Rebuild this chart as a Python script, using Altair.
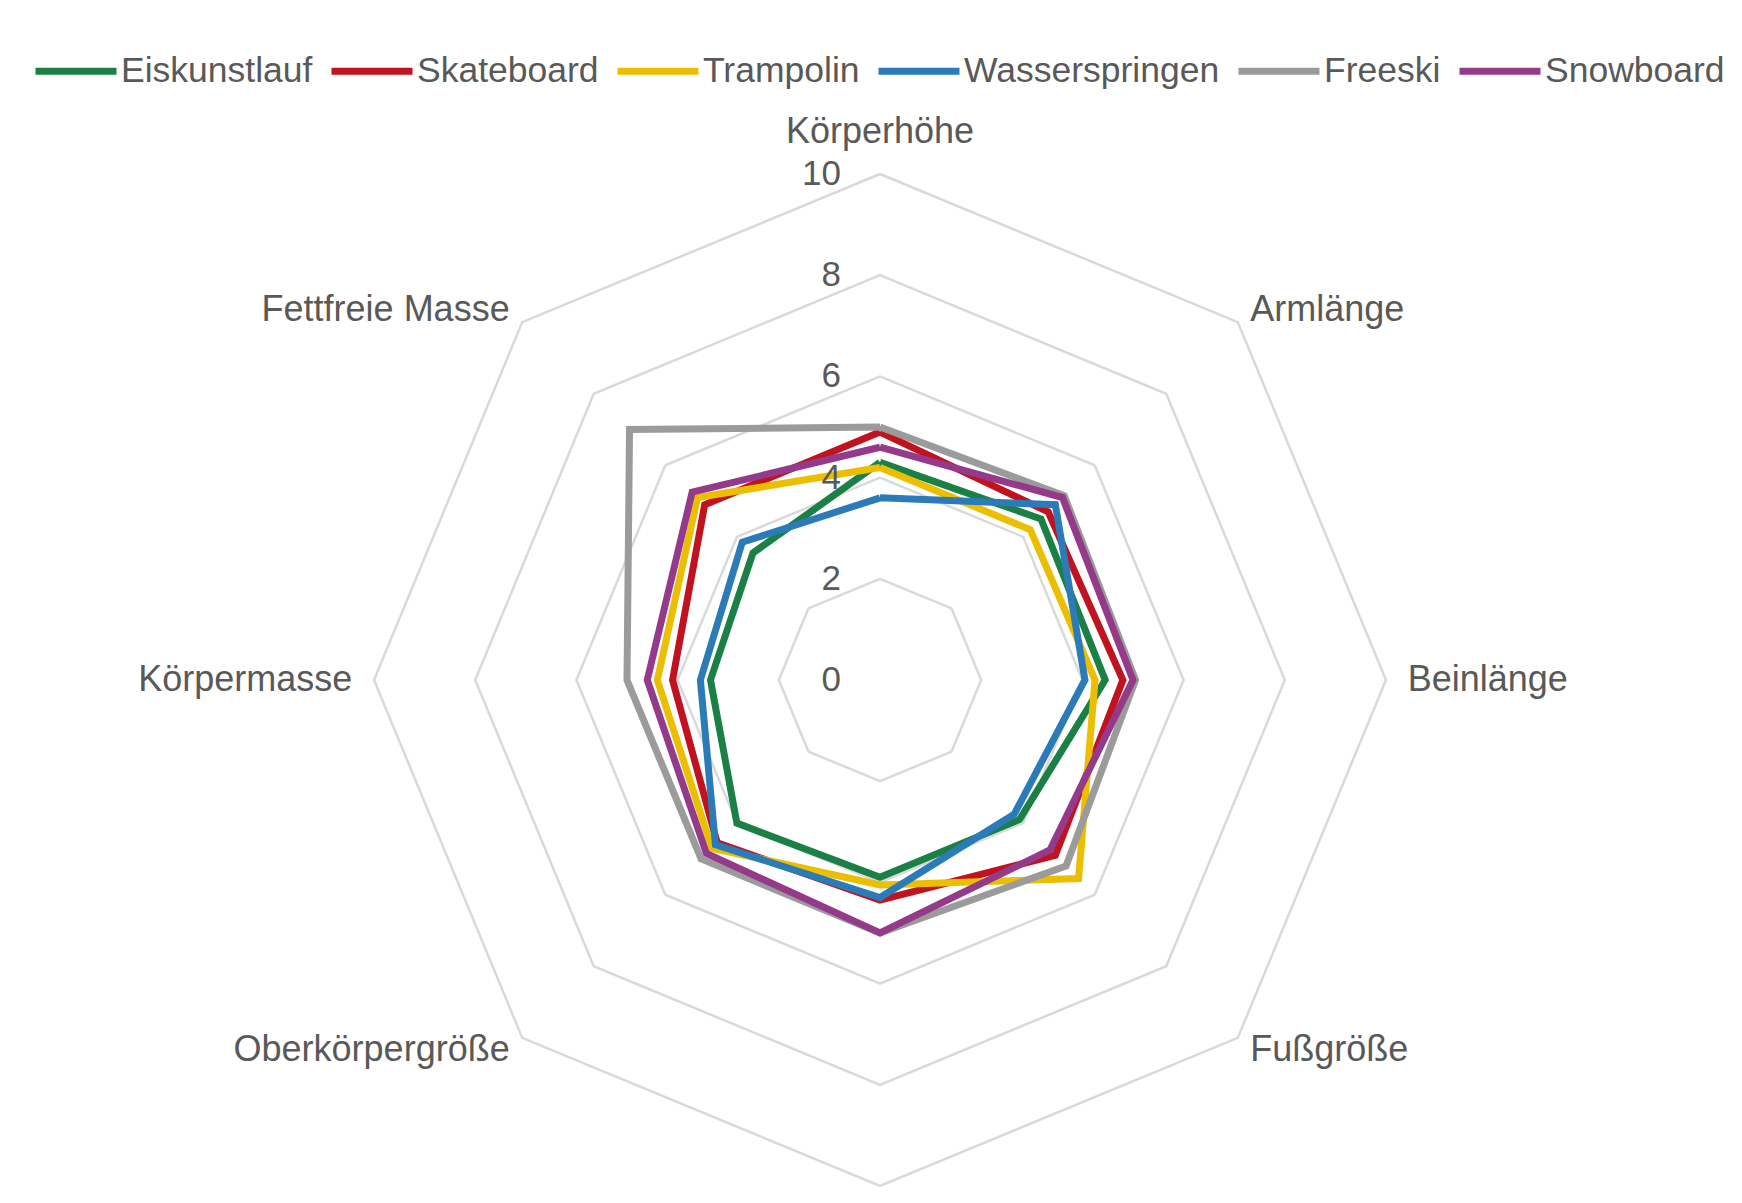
import altair as alt
import pandas as pd

# ---- data ----
categories = ["Körperhöhe", "Armlänge", "Beinlänge", "Fußgröße", "",
              "Oberkörpergröße", "Körpermasse", "Fettfreie Masse"]
series_names = ["Eiskunstlauf", "Skateboard", "Trampolin", "Wasserspringen", "Freeski", "Snowboard"]
eiskunstlauf = [4.3, 4.5, 4.45, 3.9, 3.9, 4.0, 3.35, 3.55]
skateboard = [4.9, 4.7, 4.8, 4.9, 4.35, 4.55, 4.1, 4.9]
trampolin = [4.2, 4.2, 4.25, 5.55, 4.05, 4.7, 4.4, 5.1]
wasserspringen = [3.6, 4.9, 4.05, 3.75, 4.3, 4.6, 3.55, 3.85]
freeski = [5.0, 5.15, 5.05, 5.2, 5.0, 5.0, 5.0, 7.0]
snowboard = [4.6, 5.1, 5.0, 4.75, 5.0, 4.85, 4.6, 5.25]
series_values = [eiskunstlauf, skateboard, trampolin, wasserspringen, freeski, snowboard]
colors = ["#1a8045", "#c0121f", "#ebbf00", "#2b7bb9", "#9b9b9b", "#953a8a"]
tick_values = [0, 2, 4, 6, 8, 10]
grid_levels = [2, 4, 6, 8, 10]

# ---- tables built from the lists ----
n = len(categories)
rows = []
for s, vals in zip(series_names, series_values):
    for i in range(n + 1):
        rows.append({"series": s, "idx": i, "value": vals[i % n]})
series_df = pd.DataFrame(rows)
grid_df = pd.DataFrame([{"level": lv, "idx": i} for lv in grid_levels for i in range(n + 1)])
tick_df = pd.DataFrame({"value": tick_values, "label": [str(t) for t in tick_values]})
cat_df = pd.DataFrame({"idx": list(range(n)), "label": categories})

FONT = "Liberation Sans"
TXT = "#595959"
W, H = 1726, 1187
unit = 50.6
cx, cy = 872, 672
xscale = alt.Scale(domain=[-cx / unit, (W - cx) / unit], nice=False, zero=False)
yscale = alt.Scale(domain=[-(H - cy) / unit, cy / unit], nice=False, zero=False)
X = alt.X("px:Q", scale=xscale, axis=None)
Y = alt.Y("py:Q", scale=yscale, axis=None)

grid = alt.Chart(grid_df).transform_calculate(
    px="datum.level * sin(datum.idx * PI / 4)",
    py="datum.level * cos(datum.idx * PI / 4)",
).mark_line(color="#d9d9d9", strokeWidth=2.5, strokeJoin="miter").encode(
    x=X, y=Y, detail="level:N", order="idx:Q"
)

lines = alt.Chart(series_df).transform_calculate(
    px="datum.value * sin(datum.idx * PI / 4)",
    py="datum.value * cos(datum.idx * PI / 4)",
).mark_line(strokeWidth=7, strokeJoin="miter").encode(
    x=X, y=Y, order="idx:Q",
    color=alt.Color(
        "series:N",
        scale=alt.Scale(domain=series_names, range=colors),
        sort=series_names,
        legend=alt.Legend(
            title=None, orient="none", legendX=24, legendY=19,
            direction="horizontal", columns=6, symbolType="stroke",
            symbolSize=6561, symbolStrokeWidth=7, labelFontSize=35.5,
            labelFont=FONT, labelColor=TXT, labelOffset=1, columnPadding=4,
            padding=0, labelLimit=500,
        ),
    ),
)

ticks = alt.Chart(tick_df).transform_calculate(
    px="-0.77", py="datum.value"
).mark_text(align="right", baseline="middle", fontSize=35, font=FONT, color=TXT).encode(
    x=X, y=Y, text="label:N"
)

def cat_layer(filter_expr, align):
    return alt.Chart(cat_df).transform_filter(filter_expr).transform_calculate(
        lr="datum.idx == 0 ? 10.83 : (datum.idx % 4 == 2 ? 10.43 : 10.35)"
    ).transform_calculate(
        px="datum.lr * sin(datum.idx * PI / 4)",
        py="datum.lr * cos(datum.idx * PI / 4)",
    ).mark_text(align=align, baseline="middle", fontSize=36, font=FONT, color=TXT).encode(
        x=X, y=Y, text="label:N"
    )

top_lab = cat_layer("datum.idx == 0 && datum.label != ''", "center")
right_lab = cat_layer("datum.idx >= 1 && datum.idx <= 3 && datum.label != ''", "left")
left_lab = cat_layer("datum.idx >= 5 && datum.label != ''", "right")

chart = alt.layer(grid, lines, ticks, top_lab, right_lab, left_lab).properties(
    width=W, height=H, padding=0, autosize=alt.AutoSizeParams(type="none")
).configure_view(stroke=None)

chart.save("out.html", embed_options={"renderer": "svg", "actions": False})
